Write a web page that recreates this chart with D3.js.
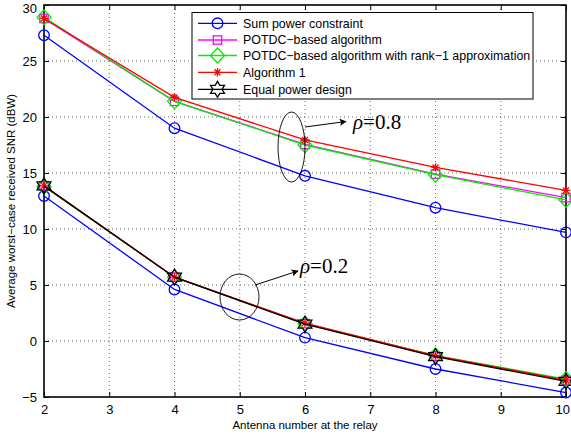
<!DOCTYPE html>
<html><head><meta charset="utf-8">
<script src="https://cdn.jsdelivr.net/npm/d3@7"></script>
<style>body{margin:0;background:#fff}svg{display:block}</style>
</head><body>
<script>
// ---- data ----
const antennas = [2, 4, 6, 8, 10];
const xTicks = [2, 3, 4, 5, 6, 7, 8, 9, 10];
const yTicks = [-5, 0, 5, 10, 15, 20, 25, 30];
const seriesNames = ["Sum power constraint", "POTDC\u2212based algorithm",
  "POTDC\u2212based algorithm with rank\u22121 approximation", "Algorithm 1", "Equal power design"];
// rho = 0.8
const sumPower08 = [27.3, 19.0, 14.75, 11.9, 9.7];
const potdc08    = [28.8, 21.4, 17.55, 14.9, 12.8];
const rank1_08   = [28.9, 21.4, 17.5, 14.85, 12.6];
const alg1_08    = [28.8, 21.75, 17.95, 15.5, 13.45];
// rho = 0.2
const sumPower02 = [12.95, 4.6, 0.3, -2.5, -4.6];
const potdc02    = [13.85, 5.7, 1.55, -1.35, -3.5];
const rank1_02   = [13.8, 5.7, 1.55, -1.3, -3.4];
const alg1_02    = [13.85, 5.7, 1.6, -1.3, -3.5];
const equal02    = [13.85, 5.7, 1.5, -1.4, -3.6];

const W = 571, H = 436;
const svg = d3.select("body").append("svg").attr("width", W).attr("height", H);
const L = 44, R = 566, T = 5, B = 397;
const x = d3.scaleLinear().domain([2, 10]).range([L, R]);
const y = d3.scaleLinear().domain([-5, 30]).range([B, T]);
const font = "'Liberation Sans', Arial, sans-serif";

// grid
const g = svg.append("g");
g.selectAll(".gx").data(xTicks.slice(1, -1)).join("line")
  .attr("x1", d => x(d)).attr("x2", d => x(d)).attr("y1", T).attr("y2", B)
  .attr("stroke", "#444").attr("stroke-width", 0.8).attr("stroke-dasharray", "1,3");
g.selectAll(".gy").data(yTicks.slice(1, -1)).join("line")
  .attr("y1", d => y(d)).attr("y2", d => y(d)).attr("x1", L).attr("x2", R)
  .attr("stroke", "#444").attr("stroke-width", 0.8).attr("stroke-dasharray", "1,3");

// axes
const axB = svg.append("g").attr("transform", `translate(0,${B})`)
  .call(d3.axisBottom(x).tickValues(xTicks).tickSizeInner(-5).tickSizeOuter(0).tickPadding(8));
const axL = svg.append("g").attr("transform", `translate(${L},0)`)
  .call(d3.axisLeft(y).tickValues(yTicks).tickSizeInner(-5).tickSizeOuter(0).tickPadding(7)
    .tickFormat(d => d < 0 ? "\u2212" + Math.abs(d) : d));
const axT = svg.append("g").attr("transform", `translate(0,${T})`)
  .call(d3.axisTop(x).tickValues(xTicks).tickSizeInner(-5).tickSizeOuter(0).tickFormat(""));
const axR = svg.append("g").attr("transform", `translate(${R},0)`)
  .call(d3.axisRight(y).tickValues(yTicks).tickSizeInner(-5).tickSizeOuter(0).tickFormat(""));
[axB, axL, axT, axR].forEach(a => {
  a.select(".domain").remove();
  a.selectAll("line").attr("stroke", "#000");
  a.selectAll("text").attr("font-family", font).attr("font-size", 13).attr("fill", "#000");
});
// keep edge labels inside the frame
axB.selectAll(".tick text").filter(d => d === 10).attr("text-anchor", "end").attr("dx", 3.5);
axL.selectAll(".tick text").filter(d => d === 30).attr("dy", "0.6em");
svg.append("rect").attr("x", L).attr("y", T).attr("width", R - L).attr("height", B - T)
  .attr("fill", "none").attr("stroke", "#000").attr("stroke-width", 1.6);

// labels
svg.append("text").attr("x", (L + R) / 2).attr("y", 429).attr("text-anchor", "middle")
  .attr("font-family", font).attr("font-size", 11.5).text("Antenna number at the relay");
svg.append("text").attr("transform", `translate(15,${(T + B) / 2}) rotate(-90)`)
  .attr("text-anchor", "middle").attr("font-family", font).attr("font-size", 11.5)
  .text("Average worst\u2212case received SNR (dBW)");

// markers
function hexPath(Rr) {
  const pts = [];
  for (let k = 0; k < 12; k++) {
    const a = (-90 + 30 * k) * Math.PI / 180;
    const r = k % 2 === 0 ? Rr : Rr / Math.sqrt(3);
    pts.push([r * Math.cos(a), r * Math.sin(a)]);
  }
  return "M" + pts.map(p => p.join(",")).join("L") + "Z";
}
function drawMarker(sel, type, color) {
  if (type === "circle") sel.append("circle").attr("r", 5.3).attr("fill", "none").attr("stroke", color).attr("stroke-width", 1.3);
  else if (type === "square") sel.append("rect").attr("x", -4.2).attr("y", -4.2).attr("width", 8.4).attr("height", 8.4).attr("fill", "none").attr("stroke", color).attr("stroke-width", 1.3);
  else if (type === "diamond") sel.append("path").attr("d", "M0,-7.5L7,0L0,7.5L-7,0Z").attr("fill", "none").attr("stroke", color).attr("stroke-width", 1.3);
  else if (type === "star") {
    const r = 4.2, d = r * 0.7071;
    sel.append("path").attr("d", `M${-r},0L${r},0M0,${-r}L0,${r}M${-d},${-d}L${d},${d}M${-d},${d}L${d},${-d}`)
      .attr("stroke", color).attr("stroke-width", 1.3);
  } else if (type === "hex") sel.append("path").attr("d", hexPath(8)).attr("fill", "none").attr("stroke", color).attr("stroke-width", 1.3);
}

const styles = [
  { color: "#0000ff", marker: "circle" },
  { color: "#ff00ff", marker: "square" },
  { color: "#00ee00", marker: "diamond" },
  { color: "#ff0000", marker: "star" },
  { color: "#000000", marker: "hex" }
];
const series = [
  { s: 0, v: sumPower08 }, { s: 0, v: sumPower02 },
  { s: 1, v: potdc08 }, { s: 1, v: potdc02 },
  { s: 2, v: rank1_08 }, { s: 2, v: rank1_02 },
  { s: 3, v: alg1_08 }, { s: 3, v: alg1_02 },
  { s: 4, v: equal02 }
];
const line = d3.line().x((d, i) => x(antennas[i])).y(d => y(d));
const plot = svg.append("g");
series.forEach(sr => {
  const st = styles[sr.s];
  plot.append("path").datum(sr.v).attr("d", line).attr("fill", "none")
    .attr("stroke", st.color).attr("stroke-width", 1.3);
  sr.v.forEach((v, i) => {
    const m = plot.append("g").attr("transform", `translate(${x(antennas[i])},${y(v)})`);
    drawMarker(m, st.marker, st.color);
  });
});

// annotations
const ann = svg.append("g");
svg.append("defs").append("marker").attr("id", "ah").attr("viewBox", "0 0 10 10")
  .attr("refX", 9).attr("refY", 5).attr("markerWidth", 10).attr("markerHeight", 7).attr("orient", "auto")
  .attr("markerUnits", "userSpaceOnUse")
  .append("path").attr("d", "M0,0L10,5L0,10L2,5Z").attr("fill", "#000");
ann.append("ellipse").attr("cx", 291.5).attr("cy", 147).attr("rx", 13.5).attr("ry", 35)
  .attr("fill", "none").attr("stroke", "#000").attr("stroke-width", 0.9);
ann.append("line").attr("x1", 305).attr("y1", 127).attr("x2", 346).attr("y2", 121.5)
  .attr("stroke", "#000").attr("stroke-width", 1).attr("marker-end", "url(#ah)");
ann.append("text").attr("x", 353).attr("y", 129).attr("font-family", "'Liberation Serif', 'DejaVu Serif', serif")
  .attr("font-size", 21).html("<tspan font-style='italic'>\u03c1</tspan>=0.8");
ann.append("ellipse").attr("cx", 239.5).attr("cy", 297).attr("rx", 19.5).attr("ry", 23)
  .attr("fill", "none").attr("stroke", "#000").attr("stroke-width", 0.9);
ann.append("line").attr("x1", 255).attr("y1", 285).attr("x2", 298).attr("y2", 271)
  .attr("stroke", "#000").attr("stroke-width", 1).attr("marker-end", "url(#ah)");
ann.append("text").attr("x", 300).attr("y", 273).attr("font-family", "'Liberation Serif', 'DejaVu Serif', serif")
  .attr("font-size", 21).html("<tspan font-style='italic'>\u03c1</tspan>=0.2");

// legend
const lg = svg.append("g");
lg.append("rect").attr("x", 192).attr("y", 12.5).attr("width", 341).attr("height", 86.5)
  .attr("fill", "#fff").attr("stroke", "#000").attr("stroke-width", 1);
const rowsY = [23.3, 40, 55.5, 72.3, 89.3];
seriesNames.forEach((name, i) => {
  const st = styles[i];
  const row = lg.append("g").attr("transform", `translate(0,${rowsY[i]})`);
  row.append("line").attr("x1", 198).attr("x2", 237).attr("y1", 0).attr("y2", 0)
    .attr("stroke", st.color).attr("stroke-width", 1.3);
  drawMarker(row.append("g").attr("transform", "translate(217.5,0)"), st.marker, st.color);
  row.append("text").attr("x", 243).attr("y", 4.4).attr("font-family", font).attr("font-size", 12.4)
    .text(name);
});
</script>
</body></html>
